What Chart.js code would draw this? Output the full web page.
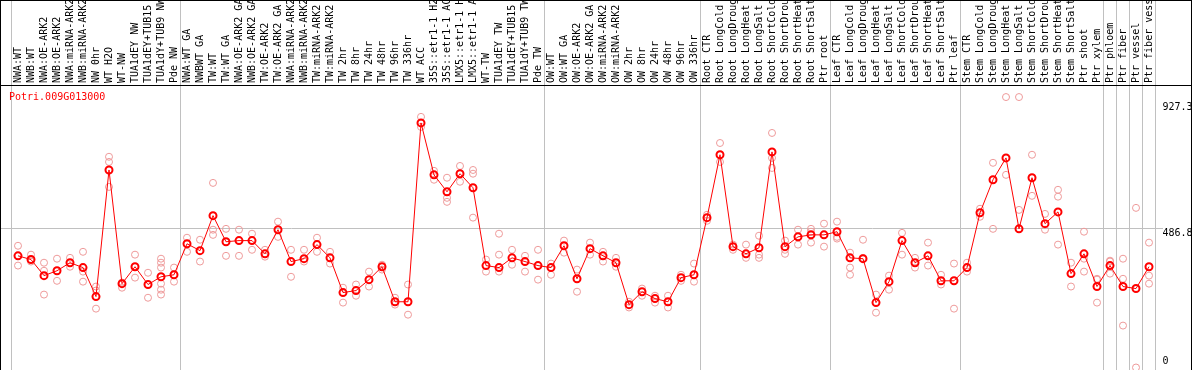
<!DOCTYPE html>
<html lang="en">
  <head>
    <meta charset="utf-8" />
    <title>Potri.009G013000</title>
    <script src="https://cdn.jsdelivr.net/npm/chart.js"></script>
    <style>
      html, body { margin: 0; background: #fff; overflow: hidden; }
    </style>
  </head>
  <body>
    <!-- a bit taller than the window: chart.js keeps ~5px under the plot for point overflow -->
    <canvas id="myChart" width="1194" height="376"></canvas>
    <script>
      const geneName = "Potri.009G013000";

      const labels = [
        "NWA:WT", "NWB:WT", "NWA:OE-ARK2", "NWB:OE-ARK2", "NWA:miRNA-ARK2", "NWB:miRNA-ARK2",
        "NW 0hr", "WT H2O", "WT-NW", "TUA1dEY NW", "TUA1dEY+TUB15", "TUA1dY+TUB9 NW", "Pde NW",
        "NWA:WT GA", "NWBWT GA", "TW:WT", "TW:WT GA", "NWA:OE-ARK2 GA", "NWB:OE-ARK2 GA",
        "TW:OE-ARK2", "TW:OE-ARK2 GA", "NWA:miRNA-ARK2", "NWB:miRNA-ARK2", "TW:miRNA-ARK2",
        "TW:miRNA-ARK2", "TW 2hr", "TW 8hr", "TW 24hr", "TW 48hr", "TW 96hr", "TW 336hr",
        "WT ACC", "35S::etr1-1 H2", "35S::etr1-1 AC", "LMX5::etr1-1 H", "LMX5::etr1-1 A",
        "WT-TW", "TUA1dEY TW", "TUA1dEY+TUB15", "TUA1dY+TUB9 TW", "Pde TW",
        "OW:WT", "OW:WT GA", "OW:OE-ARK2", "OW:OE-ARK2 GA", "OW:miRNA-ARK2", "OW:miRNA-ARK2",
        "OW 2hr", "OW 8hr", "OW 24hr", "OW 48hr", "OW 96hr", "OW 336hr",
        "Root CTR", "Root LongCold", "Root LongDroug", "Root LongHeat", "Root LongSalt",
        "Root ShortCold", "Root ShortDrou", "Root ShortHeat", "Root ShortSalt", "Ptr root",
        "Leaf CTR", "Leaf LongCold", "Leaf LongDroug", "Leaf LongHeat", "Leaf LongSalt",
        "Leaf ShortCold", "Leaf ShortDrou", "Leaf ShortHeat", "Leaf ShortSalt", "Ptr leaf",
        "Stem CTR", "Stem LongCold", "Stem LongDroug", "Stem LongHeat", "Stem LongSalt",
        "Stem ShortCold", "Stem ShortDrou", "Stem ShortHeat", "Stem ShortSalt", "Ptr shoot",
        "Ptr xylem", "Ptr phloem", "Ptr fiber", "Ptr vessel", "Ptr fiber vess"
      ];

      // mean expression per sample
      const means = [
        389, 376, 320, 337, 365, 348, 247, 688, 292, 351, 289, 316, 323,
        431, 407, 529, 438, 442, 442, 396, 480, 369, 379, 428, 382, 261, 268, 306, 351, 229, 229,
        852, 671, 612, 675, 626, 355, 348, 382, 369, 355,
        348, 424, 309, 414, 389, 365, 219, 264, 240, 229, 313, 323,
        522, 741, 421, 396, 417, 751, 421, 455, 462, 462,
        473, 382, 379, 226, 299, 442, 365, 389, 302, 302,
        348, 539, 654, 730, 483, 661, 501, 542, 327, 396, 282,
        355, 282, 275, 351
      ];

      // individual replicates per sample
      const replicates = [
        [424, 355], [393, 369], [365, 337, 254], [379, 302], [382, 351], [403, 334, 299],
        [282, 268, 205], [734, 716, 629], [296, 278], [393, 313], [330, 243],
        [379, 365, 348, 292, 271, 254], [348, 299],
        [452, 403], [445, 369], [643, 480, 462], [483, 389], [480, 389], [466, 410],
        [410, 386], [508, 455], [410, 316], [410, 369], [452, 403], [403, 362],
        [278, 226], [289, 250], [334, 282], [358, 341], [243, 219], [289, 184],
        [873, 838], [685, 654], [661, 591, 577], [702, 647], [688, 675, 522],
        [376, 334], [466, 393, 334], [410, 358], [389, 334], [410, 306],
        [362, 323], [442, 400], [341, 264], [435, 393], [403, 369], [382, 351],
        [229, 209], [275, 250], [250, 226], [250, 209], [323, 302], [362, 299],
        [532, 511], [782, 716], [428, 410], [428, 382], [459, 393, 382], [817, 730, 695],
        [442, 410, 396], [480, 428], [483, 473, 435], [501, 421],
        [508, 455, 449], [400, 348, 323], [445, 382], [254, 191], [320, 271], [469, 393],
        [382, 348], [435, 355], [323, 289], [362, 205],
        [365, 334], [553, 525], [713, 483], [942, 671], [942, 549], [741, 598], [535, 480],
        [619, 595, 428], [365, 282], [473, 379, 334], [309, 306, 226],
        [372, 369, 327], [379, 309, 146], [556, 0], [435, 320, 292]
      ];

      // first sample of every block; the last entry closes the final block
      const groupBreaks = [0, 13, 41, 53, 63, 73, 84, 85, 86, 87, 88];
      const yTicks = [0, 486.8, 927.3];
      const gridValue = 486.8;

      // one series per replicate slot, null where a sample has fewer replicates
      const maxReps = Math.max(...replicates.map((r) => r.length));
      const repDatasets = [];
      for (let k = 0; k < maxReps; k++) {
        repDatasets.push({
          label: "rep " + (k + 1),
          data: replicates.map((r) => (k < r.length ? r[k] : null)),
          showLine: false,
          pointRadius: 3.5,
          pointBorderWidth: 1,
          pointBorderColor: "#ee9a9a",
          pointBackgroundColor: "rgba(0,0,0,0)",
        });
      }

      const frame = {
        id: "frame",
        beforeDatasetsDraw(chart) {
          const { ctx, scales } = chart;
          const x = scales.x;
          const y = scales.y;
          ctx.save();
          ctx.lineWidth = 1;

          ctx.strokeStyle = "#c0c0c0";
          const gy = Math.round(y.getPixelForValue(gridValue)) + 0.5;
          ctx.beginPath();
          ctx.moveTo(1, gy);
          ctx.lineTo(1163, gy);
          ctx.stroke();

          groupBreaks.forEach((b) => {
            const px = Math.floor(x.getPixelForValue(b - 0.5)) + 0.5;
            ctx.beginPath();
            ctx.moveTo(px, 0);
            ctx.lineTo(px, chart.height);
            ctx.stroke();
          });

          ctx.strokeStyle = "#000";
          ctx.beginPath();
          ctx.moveTo(0.5, 0);
          ctx.lineTo(0.5, chart.height);
          ctx.moveTo(1191.5, 0);
          ctx.lineTo(1191.5, chart.height);
          ctx.moveTo(0, 0.5);
          ctx.lineTo(1192, 0.5);
          ctx.moveTo(0, 85.5);
          ctx.lineTo(1192, 85.5);
          ctx.stroke();

          ctx.fillStyle = "#ff0000";
          ctx.font = "10px 'DejaVu Sans Mono'";
          ctx.textBaseline = "middle";
          ctx.textAlign = "left";
          ctx.fillText(geneName, 9, 97.5);
          ctx.restore();
        },
      };

      const ctx = document.getElementById("myChart");

      new Chart(ctx, {
        type: "line",
        data: {
          labels: labels,
          datasets: [
            {
              label: "mean",
              data: means,
              borderColor: "#ff0000",
              borderWidth: 1,
              pointRadius: 3.5,
              pointBorderWidth: 2,
              pointBorderColor: "#ff0000",
              pointBackgroundColor: "rgba(0,0,0,0)",
            },
            ...repDatasets,
          ],
        },
        options: {
          responsive: false,
          animation: false,
          devicePixelRatio: 1,
          layout: { padding: { left: 11.5, right: 2.5, top: 0, bottom: 0 } },
          plugins: {
            legend: { display: false },
            tooltip: { enabled: false },
          },
          scales: {
            x: {
              type: "category",
              position: "top",
              offset: true,
              grid: { display: false, drawTicks: false },
              border: { display: false },
              afterFit: (scale) => {
                scale.height = 86;
                scale.paddingLeft = 0;
                scale.paddingRight = 0;
              },
              ticks: {
                autoSkip: false,
                minRotation: 90,
                maxRotation: 90,
                padding: 3,
                labelOffset: 12,
                color: "#000",
                font: { family: "'DejaVu Sans Mono'", size: 10 },
              },
            },
            y: {
              type: "linear",
              position: "right",
              min: -8.7,
              max: 980.5,
              grid: { display: false, drawTicks: false },
              border: { display: false },
              afterFit: (scale) => {
                scale.width = 36;
                scale.paddingTop = 0;
                scale.paddingBottom = 0;
              },
              afterBuildTicks: (scale) => {
                scale.ticks = yTicks.map((v) => ({ value: v }));
              },
              ticks: {
                padding: 7,
                color: "#000",
                font: { family: "'DejaVu Sans Mono'", size: 10 },
                callback: (v) => (v === 0 ? ["0", ""] : ["", String(v)]),
              },
            },
          },
        },
        plugins: [frame],
      });
    </script>
  </body>
</html>
